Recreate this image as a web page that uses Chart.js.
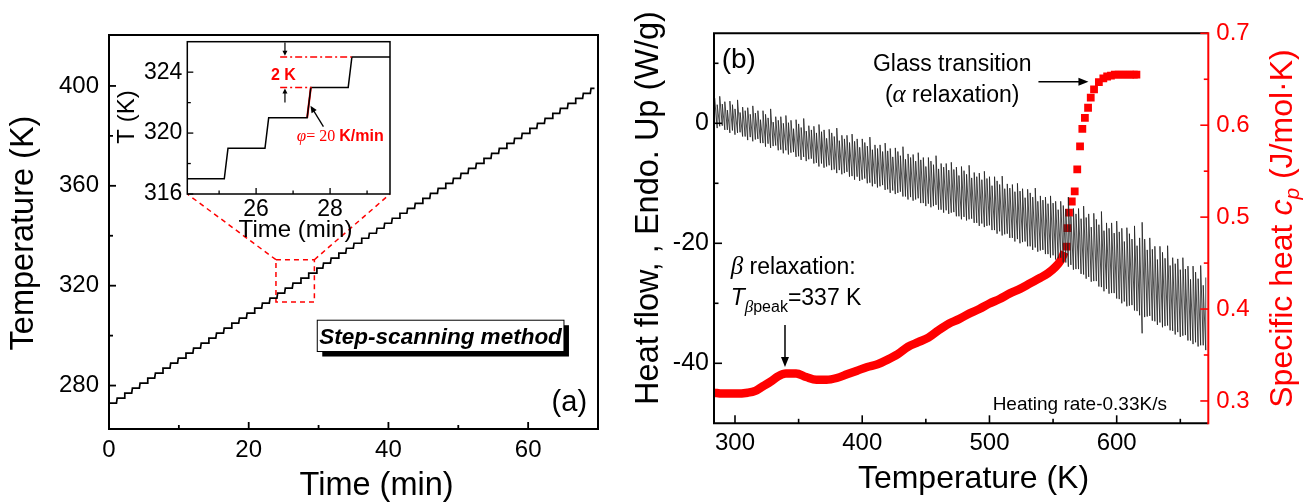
<!DOCTYPE html>
<html><head><meta charset="utf-8">
<script src="https://cdn.jsdelivr.net/npm/chart.js@4.4.1/dist/chart.umd.min.js"></script>
<style>
html,body{margin:0;padding:0;background:#fff;}
#wrap{position:relative;width:1315px;height:504px;overflow:hidden;background:#fff;}
canvas{position:absolute;}
</style></head><body>
<div id="wrap">
<canvas id="ca" width="620" height="504" style="left:0;top:0"></canvas>
<canvas id="ci" width="300" height="215" style="left:110px;top:36px"></canvas>
<canvas id="cb" width="695" height="504" style="left:620px;top:0"></canvas>
</div>
<script>
// ---------------- DATA: panel (a) step-scanning temperature program ----------------
const riseTimes = [1.07,2.16,3.25,4.35,5.45,6.54,7.63,8.73,9.82,10.92,12.01,13.10,14.20,15.29,16.39,17.48,18.57,19.67,20.76,21.86,22.95,24.04,25.14,26.24,27.38,28.49,29.66,30.61,31.70,32.80,33.89,34.98,36.08,37.17,38.27,39.36,40.45,41.55,42.64,43.74,44.83,45.92,47.02,48.11,49.21,50.30,51.39,52.49,53.58,54.68,55.77,56.86,57.96,59.05,60.15,61.24,62.33,63.43,64.52,65.62,66.71,67.80,68.90];
const plateauT = [273,275,277,279,281,283,285,287,289,291,293,295,297,299,301,303,305,307,309,311,313,315,317,319,321,323,325,327,329,331,333,335,337,339,341,343,345,347,349,351,353,355,357,359,361,363,365,367,369,371,373,375,377,379,381,383,385,387,389,391,393,395,397,399];
const riseDuration = 0.1;   // 2 K at 20 K/min
const endTime = 69.5;
const highlightedRise = 24; // the red rise shown in the inset
const aXTicks = [0,20,40,60], aXMinor = [10,30,50];
const aYTicks = [280,320,360,400], aYMinor = [300,340,380];
const inXTicks = [26,28], inXMinor = [25,27,29];
const inYTicks = [316,320,324], inYMinor = [318,322];

// ---------------- DATA: panel (b) heat flow (spikes) and specific heat ----------------
const hfT = [284,286,288,290,292,294,296,298,300,302,304,306,308,310,312,314,316,318,320,322,324,326,328,330,332,334,336,338,340,342,344,346,348,350,352,354,356,358,360,362,364,366,368,370,372,374,376,378,380,382,384,386,388,390,392,394,396,398,400,402,404,406,408,410,412,414,416,418,420,422,424,426,428,430,432,434,436,438,440,442,444,446,448,450,452,454,456,458,460,462,464,466,468,470,472,474,476,478,480,482,484,486,488,490,492,494,496,498,500,502,504,506,508,510,512,514,516,518,520,522,524,526,528,530,532,534,536,538,540,542,544,546,548,550,552,554,556,558,560,562,564,566,568,570,572,574,576,578,580,582,584,586,588,590,592,594,596,598,600,602,604,606,608,610,612,614,616,618,620,622,624,626,628,630,632,634,636,638,640,642,644,646,648,650,652,654,656,658,660,662,664,666,668,670];
const hfTop = [4.2,3.1,4.5,3.2,3.6,2.2,3.7,3.1,2.4,3.9,1.8,2.7,2.1,
2.6,1.5,2.9,1.7,2.1,0.6,2.1,1.5,0.9,2.4,0.2,1.1,0.5,
1.1,0.0,1.3,0.1,0.5,-0.9,0.6,-0.1,-0.7,0.8,-1.3,-0.4,-1.1,
-0.5,-1.6,-0.2,-1.4,-1.1,-2.5,-1.0,-1.6,-2.2,-0.8,-2.9,-2.0,-2.6,
-2.0,-3.2,-1.8,-3.0,-2.6,-4.0,-2.6,-3.2,-3.8,-2.3,-4.4,-3.6,-4.2,
-3.6,-4.7,-3.3,-4.6,-4.2,-5.6,-4.1,-4.7,-5.4,-3.9,-6.0,-5.1,-5.7,
-5.2,-6.3,-4.9,-6.1,-5.7,-7.2,-5.7,-6.3,-6.9,-5.4,-7.6,-6.7,-7.3,
-6.7,-7.8,-6.5,-7.7,-7.3,-8.7,-7.2,-7.9,-8.5,-7.0,-9.1,-8.2,-8.9,
-8.3,-9.4,-8.0,-9.2,-8.9,
-10.4,-8.9,-9.6,-10.2,-8.8,-10.9,-10.1,-10.8,-10.2,-11.4,-10.0,-11.3,-10.9,-12.4,-11.0,-11.6,-12.3,-10.8,-13.0,-12.1,-12.8,-12.3,-13.4,-12.1,-13.3,-13.0,-14.4,-13.0,-13.7,-14.3,
-12.3,-15.5,-14.2,-15.1,-14.2,-15.9,-13.8,-15.7,-15.1,-17.3,-15.0,-16.0,-16.9,-14.7,-17.9,-16.6,-17.5,-16.6,-18.3,-16.3,-18.1,-17.5,-19.7,-17.4,-18.4,-19.3,-17.1,
-20.4,-19.1,-16.5,-19.3,-21.1,-19.1,-21.0,-20.5,-22.7,-20.5,-21.5,-22.5,-20.4,-23.7,-22.4,-23.4,-22.6,-24.4,-22.4,-24.3,-23.8,-26.0,-23.8,-24.8,-25.9,-23.7,-27.0,-25.7];
const hfBase = [-0.1,-0.8,-0.5,-0.4,-1.1,-1.1,-1.6,-1.2,-1.9,-1.6,-1.5,-2.2,-2.2,
-2.8,-2.3,-3.0,-2.7,-2.6,-3.3,-3.3,-3.9,-3.4,-4.1,-3.8,-3.7,-4.5,
-4.4,-5.0,-4.5,-5.2,-4.9,-4.8,-5.6,-5.5,-6.1,-5.6,-6.3,-6.0,-5.9,
-6.7,-6.6,-7.2,-6.7,-7.4,-7.2,-7.0,-7.8,-7.7,-8.3,-7.8,-8.5,-8.3,
-8.1,-8.9,-8.8,-9.4,-8.9,-9.6,-9.4,-9.2,-10.0,-9.9,-10.5,-10.1,-10.7,
-10.5,-10.3,-11.1,-11.0,-11.6,-11.2,-11.8,-11.6,-11.4,-12.2,-12.2,-12.7,-12.3,
-12.9,-12.7,-12.5,-13.3,-13.3,-13.8,-13.4,-14.0,-13.8,-13.6,-14.4,-14.4,-14.9,
-14.5,-15.1,-14.9,-14.8,-15.5,-15.5,-16.0,-15.6,-16.2,-16.0,-15.9,-16.6,-16.6,
-17.1,-16.7,-17.3,-17.1,-17.0,
-17.8,-17.8,-18.4,-18.0,-18.7,-18.5,-18.4,-19.1,-19.1,-19.7,-19.3,-20.0,-19.8,-19.7,-20.5,-20.5,-21.1,-20.7,-21.4,-21.2,-21.1,-21.8,-21.8,-22.4,-22.0,-22.7,-22.5,-22.4,-23.2,-23.2,
-23.9,-23.6,-24.4,-24.3,-24.3,-25.1,-25.2,-25.9,-25.6,-26.4,-26.3,-26.3,-27.2,-27.3,-28.0,-27.6,-28.4,-28.3,-28.3,-29.2,-29.3,-30.0,-29.7,-30.5,-30.4,-30.3,-31.2,
-31.3,-32.0,-35.0,-32.3,-32.2,-32.1,-32.9,-33.0,-33.6,-33.2,-34.0,-33.8,-33.7,-34.5,-34.6,-35.2,-34.8,-35.6,-35.4,-35.3,-36.2,-36.2,-36.8,-36.5,-37.2,-37.0,-37.0,-37.8];
const cpLineT = [283.5,290,300,310,316,322,328,334,340,348,356,364,372,380,388,396,404,412,420,428,436,444,452,460,468,476,484,492,500,508,516,524,532,540,546,552,556,559];
const cpLine  = [0.309,0.308,0.308,0.309,0.311,0.316,0.321,0.327,0.330,0.330,0.326,0.323,0.323,0.325,0.329,0.333,0.337,0.340,0.345,0.351,0.359,0.364,0.369,0.377,0.384,0.389,0.395,0.400,0.406,0.411,0.417,0.422,0.428,0.434,0.439,0.446,0.453,0.462];
const cpSqT = [560.7,561.3,562.5,564.7,567.0,569.0,571.2,573.0,575.0,577.5,579.6,582.2,586.0,589.5,592.5,595.5,598.5,601.5,604.5,607.5,610.5,613.5,615.5];
const cpSq  = [0.468,0.488,0.505,0.517,0.528,0.552,0.577,0.596,0.608,0.619,0.630,0.639,0.647,0.651,0.653,0.654,0.655,0.655,0.655,0.655,0.655,0.655,0.655];
const bXTicks = [300,400,500,600], bXMinor = [350,450,550,650];
const bYTicks = [0,-20,-40], bYMinor = [10,-10,-30];
const bY2Ticks = [0.3,0.4,0.5,0.6,0.7], bY2Minor = [0.35,0.45,0.55,0.65];

// ---------------- helpers ----------------
const FONT = "'Liberation Sans', Arial, sans-serif";
const SERIF = "'Liberation Serif', 'Times New Roman', serif";
const RED = '#ff0000';
Chart.defaults.font.family = FONT;
Chart.defaults.color = '#000';

function stairPoints(){
  const pts = [{x:0, y:plateauT[0]}];
  riseTimes.forEach((t,k)=>{ pts.push({x:t, y:plateauT[k]}); pts.push({x:t+riseDuration, y:plateauT[k+1]}); });
  pts.push({x:endTime, y:plateauT[plateauT.length-1]});
  return pts;
}
function fixed(dim, val){
  return s => { s[dim] = val; s.paddingTop = 0; s.paddingBottom = 0; s.paddingLeft = 0; s.paddingRight = 0; };
}
function setTicks(arr){ return s => { s.ticks = arr.map(v=>({value:v})); }; }
function ticks(chart, id, majors, minors, edge, color, lMaj, lMin, lw){
  const s = chart.scales[id], a = chart.chartArea, ctx = chart.ctx;
  ctx.save(); ctx.strokeStyle = color; ctx.lineWidth = lw;
  const d = (v,len)=>{ const p = s.getPixelForValue(v); ctx.beginPath();
    if(edge==='bottom'){ ctx.moveTo(p,a.bottom); ctx.lineTo(p,a.bottom-len); }
    else if(edge==='left'){ ctx.moveTo(a.left,p); ctx.lineTo(a.left+len,p); }
    else { ctx.moveTo(a.right,p); ctx.lineTo(a.right-len,p); }
    ctx.stroke(); };
  majors.forEach(v=>d(v,lMaj)); minors.forEach(v=>d(v,lMin));
  ctx.restore();
}
function rich(ctx, segs, x, y, align, rot, color){
  ctx.save(); ctx.translate(x,y); if(rot) ctx.rotate(rot);
  ctx.textBaseline = 'alphabetic'; ctx.textAlign = 'left';
  let w = 0; segs.forEach(s=>{ ctx.font = s[1]; w += ctx.measureText(s[0]).width; });
  let cx = align==='center' ? -w/2 : (align==='right' ? -w : 0);
  segs.forEach(s=>{ ctx.font = s[1]; ctx.fillStyle = color; ctx.fillText(s[0], cx, s[2]||0); cx += ctx.measureText(s[0]).width; });
  ctx.restore();
}
function arrow(ctx,x1,y1,x2,y2,hl,hw,color,lw){
  const a = Math.atan2(y2-y1,x2-x1), c = Math.cos(a), s = Math.sin(a);
  ctx.save(); ctx.strokeStyle = color; ctx.fillStyle = color; ctx.lineWidth = lw; ctx.setLineDash([]);
  ctx.beginPath(); ctx.moveTo(x1,y1); ctx.lineTo(x2-hl*c*0.8, y2-hl*s*0.8); ctx.stroke();
  ctx.beginPath(); ctx.moveTo(x2,y2);
  ctx.lineTo(x2-hl*c+hw*s, y2-hl*s-hw*c);
  ctx.lineTo(x2-hl*c-hw*s, y2-hl*s+hw*c);
  ctx.closePath(); ctx.fill(); ctx.restore();
}
const noFx = {responsive:false, animation:false, events:[], plugins:{legend:{display:false}, tooltip:{enabled:false}}};

// ---------------- inset chart ----------------
const stairs = stairPoints();
const redRise = [{x:riseTimes[highlightedRise], y:plateauT[highlightedRise]},
                 {x:riseTimes[highlightedRise]+riseDuration, y:plateauT[highlightedRise+1]}];

const insetPlugin = {
  id:'insetDeco',
  beforeDatasetsDraw(chart){
    const a = chart.chartArea, ctx = chart.ctx;
    ctx.save(); ctx.fillStyle = '#fff'; ctx.fillRect(a.left, a.top, a.right-a.left, a.bottom-a.top); ctx.restore();
  },
  afterDatasetsDraw(chart){
    const a = chart.chartArea, ctx = chart.ctx, xs = chart.scales.x, ys = chart.scales.y;
    const P = (t,T)=>[xs.getPixelForValue(t), ys.getPixelForValue(T)];
    ctx.save(); ctx.strokeStyle = RED; ctx.lineWidth = 1.5; ctx.setLineDash([7,3,2,3]);
    let p1 = P(26.65,325), p2 = P(28.58,325);
    ctx.beginPath(); ctx.moveTo(p1[0],p1[1]); ctx.lineTo(p2[0],p2[1]); ctx.stroke();
    p1 = P(26.65,323); p2 = P(27.5,323);
    ctx.beginPath(); ctx.moveTo(p1[0],p1[1]); ctx.lineTo(p2[0],p2[1]); ctx.stroke();
    ctx.restore();
    let q1 = P(26.78,325.95), q2 = P(26.78,325.08); arrow(ctx,q1[0],q1[1],q2[0],q2[1],5,2.5,'#000',1.2);
    q1 = P(26.78,322.0); q2 = P(26.78,322.92); arrow(ctx,q1[0],q1[1],q2[0],q2[1],5,2.5,'#000',1.2);
    q1 = P(27.82,320.42); q2 = P(27.47,321.8); arrow(ctx,q1[0],q1[1],q2[0],q2[1],7,3,'#000',1.3);
    let t = P(26.74,323.49);
    rich(ctx, [['2 K', 'bold 16px '+FONT]], t[0], t[1], 'center', 0, RED);
    t = P(27.10,319.48);
    rich(ctx, [['\u03c6', 'italic 17px '+SERIF], ['= 20 ', '16px '+SERIF], ['K/min', 'bold 16px '+FONT]], t[0], t[1], 'left', 0, RED);
    ctx.save(); ctx.strokeStyle = '#000'; ctx.lineWidth = 1.5; ctx.setLineDash([]);
    ctx.strokeRect(a.left, a.top, a.right-a.left, a.bottom-a.top); ctx.restore();
    ticks(chart,'x',inXTicks,inXMinor,'bottom','#000',6,3.5,1.3);
    ticks(chart,'y',inYTicks,inYMinor,'left','#000',6,3.5,1.3);
    rich(ctx, [['Time (min)', '24px '+FONT]], 185.5, 201, 'center', 0, '#000');
    rich(ctx, [['T (K)', '24px '+FONT]], 24, 81, 'center', -Math.PI/2, '#000');
  }
};
const inset = new Chart(document.getElementById('ci'), {
  type:'scatter',
  data:{datasets:[
    {data:stairs, showLine:true, borderColor:'#000', borderWidth:1.5, pointRadius:0},
    {data:redRise, showLine:true, borderColor:RED, borderWidth:2, pointRadius:0}
  ]},
  options:Object.assign({}, noFx, {
    layout:{padding:{top:5.7, right:20, left:0, bottom:0}},
    scales:{
      x:{type:'linear', min:24.14, max:29.62, afterBuildTicks:setTicks(inXTicks), afterFit:fixed('height',57),
         grid:{display:false, drawTicks:false}, border:{display:false},
         ticks:{font:{size:23}, padding:2, maxRotation:0, color:'#000'}},
      y:{type:'linear', min:316, max:326, afterBuildTicks:setTicks(inYTicks), afterFit:fixed('width',77.3),
         grid:{display:false, drawTicks:false}, border:{display:false},
         ticks:{font:{size:23}, padding:5, color:'#000'}}
    }
  }),
  plugins:[insetPlugin]
});

// ---------------- panel (a) ----------------
const aPlugin = {
  id:'aDeco',
  afterDatasetsDraw(chart){
    const a = chart.chartArea, ctx = chart.ctx, xs = chart.scales.x, ys = chart.scales.y;
    const P = (t,T)=>[xs.getPixelForValue(t), ys.getPixelForValue(T)];
    const b1 = P(23.9,330.4), b2 = P(29.4,313.5);
    ctx.save(); ctx.strokeStyle = RED; ctx.lineWidth = 1.5; ctx.setLineDash([5,4]);
    ctx.strokeRect(b1[0], b1[1], b2[0]-b1[0], b2[1]-b1[1]);
    const ia = inset.chartArea, ox = 110, oy = 36;
    ctx.beginPath(); ctx.moveTo(b1[0], b1[1]); ctx.lineTo(ox+ia.left, oy+ia.bottom); ctx.stroke();
    ctx.beginPath(); ctx.moveTo(b2[0], b1[1]); ctx.lineTo(ox+ia.right, oy+ia.bottom); ctx.stroke();
    ctx.restore();
    const c = P(47.47,299.9), w = 246.7, h = 31.3;
    ctx.save();
    ctx.fillStyle = '#000'; ctx.fillRect(c[0]-w/2+5, c[1]-h/2+5, w, h);
    ctx.fillStyle = '#fff'; ctx.fillRect(c[0]-w/2, c[1]-h/2, w, h);
    ctx.strokeStyle = '#000'; ctx.lineWidth = 1; ctx.strokeRect(c[0]-w/2, c[1]-h/2, w, h);
    ctx.restore();
    rich(ctx, [['Step-scanning method', 'italic bold 22.5px '+FONT]], c[0], c[1]+7.8, 'center', 0, '#000');
    const pa = P(63.36,269.9);
    rich(ctx, [['(a)', '29px '+FONT]], pa[0], pa[1], 'left', 0, '#000');
    ctx.save(); ctx.strokeStyle = '#000'; ctx.lineWidth = 2; ctx.setLineDash([]);
    ctx.strokeRect(a.left, a.top, a.right-a.left, a.bottom-a.top); ctx.restore();
    ticks(chart,'x',aXTicks,aXMinor,'bottom','#000',7,4,1.8);
    ticks(chart,'y',aYTicks,aYMinor,'left','#000',7,4,1.8);
    rich(ctx, [['Time (min)', '32.5px '+FONT]], 376.6, 495, 'center', 0, '#000');
    rich(ctx, [['Temperature (K)', '32.5px '+FONT]], 33, 233, 'center', -Math.PI/2, '#000');
  }
};
new Chart(document.getElementById('ca'), {
  type:'scatter',
  data:{datasets:[{data:stairs, showLine:true, borderColor:'#000', borderWidth:1.7, pointRadius:0}]},
  options:Object.assign({}, noFx, {
    layout:{padding:{top:35, right:22, left:0, bottom:0}},
    scales:{
      x:{type:'linear', min:0, max:70, afterBuildTicks:setTicks(aXTicks), afterFit:fixed('height',75),
         grid:{display:false, drawTicks:false}, border:{display:false},
         ticks:{font:{size:24}, padding:7, maxRotation:0, color:'#000'}},
      y:{type:'linear', min:262.6, max:420.4, afterBuildTicks:setTicks(aYTicks), afterFit:fixed('width',109),
         grid:{display:false, drawTicks:false}, border:{display:false},
         ticks:{font:{size:24}, padding:10, color:'#000'}}
    }
  }),
  plugins:[aPlugin]
});

// ---------------- panel (b) ----------------
const hfPts = [];
hfT.forEach((t,i)=>{ hfPts.push({x:t, y:hfBase[i]}); hfPts.push({x:t, y:hfTop[i]}); });
const cpLinePts = cpLineT.map((t,i)=>({x:t, y:cpLine[i]}));
const cpSqPts = cpSqT.map((t,i)=>({x:t, y:cpSq[i]}));

const bPlugin = {
  id:'bDeco',
  afterDatasetsDraw(chart){
    const a = chart.chartArea, ctx = chart.ctx, xs = chart.scales.x, ys = chart.scales.y;
    const P = (t,v)=>[xs.getPixelForValue(t), ys.getPixelForValue(v)];
    let p = P(289.5,9.28);
    rich(ctx, [['(b)', '28px '+FONT]], p[0], p[1], 'left', 0, '#000');
    p = P(470.7,8.77);
    rich(ctx, [['Glass transition', '23px '+FONT]], p[0], p[1], 'center', 0, '#000');
    p = P(470.7,3.47);
    rich(ctx, [['(', '23px '+FONT], ['\u03b1', 'italic 25px '+SERIF], [' relaxation)', '23px '+FONT]], p[0], p[1], 'center', 0, '#000');
    let q1 = P(538.5,6.93), q2 = P(577.8,6.93); arrow(ctx,q1[0],q1[1],q2[0],q2[1],10,4,'#000',1.5);
    p = P(296.6,-25.1);
    rich(ctx, [['\u03b2', 'italic 25px '+SERIF], [' relaxation:', '23px '+FONT]], p[0], p[1], 'left', 0, '#000');
    p = P(296.6,-30.3);
    rich(ctx, [['T', 'italic 23px '+FONT], ['\u03b2', 'italic 17px '+SERIF, 7], ['peak', '16px '+FONT, 7], ['=337 K', '23px '+FONT]], p[0], p[1], 'left', 0, '#000');
    q1 = P(339.3,-33.6); q2 = P(339.3,-40.6); arrow(ctx,q1[0],q1[1],q2[0],q2[1],10,4,'#000',1.5);
    p = P(502.5,-47.8);
    rich(ctx, [['Heating rate-0.33K/s', '19px '+FONT]], p[0], p[1], 'left', 0, '#000');
    ctx.save(); ctx.setLineDash([]); ctx.lineWidth = 2; ctx.strokeStyle = '#000';
    ctx.beginPath(); ctx.moveTo(a.right, a.top); ctx.lineTo(a.left, a.top); ctx.lineTo(a.left, a.bottom); ctx.lineTo(a.right, a.bottom); ctx.stroke();
    ctx.strokeStyle = RED; ctx.beginPath(); ctx.moveTo(a.right, a.top-1); ctx.lineTo(a.right, a.bottom+1); ctx.stroke();
    ctx.restore();
    ticks(chart,'x',bXTicks,bXMinor,'bottom','#000',8,4.5,1.6);
    ticks(chart,'y',bYTicks,bYMinor,'left','#000',8,4.5,1.6);
    ticks(chart,'y2',bY2Ticks,bY2Minor,'right',RED,8,4.5,1.6);
    rich(ctx, [['Temperature (K)', '32px '+FONT]], 353.5, 488, 'center', 0, '#000');
    rich(ctx, [['Heat flow, , Endo. Up (W/g)', '32.5px '+FONT]], 38, 208, 'center', -Math.PI/2, '#000');
    rich(ctx, [['Specific heat ', '32px '+FONT], ['c', 'italic 32px '+FONT], ['p', 'italic 21px '+FONT, 7], [' (J/mol\u00b7K)', '32px '+FONT]], 672, 228.5, 'center', -Math.PI/2, RED);
  }
};
new Chart(document.getElementById('cb'), {
  type:'scatter',
  data:{datasets:[
    {data:hfPts, showLine:true, borderColor:'#1e1e1e', borderWidth:0.8, pointRadius:0, yAxisID:'y'},
    {data:cpLinePts, showLine:true, borderColor:RED, borderWidth:8.5, pointRadius:0, cubicInterpolationMode:'monotone', yAxisID:'y2'},
    {data:cpSqPts, showLine:false, pointStyle:'rect', pointRadius:5.5, backgroundColor:RED, borderWidth:0, yAxisID:'y2'}
  ]},
  options:Object.assign({}, noFx, {
    layout:{padding:{top:33.3, right:0, left:0, bottom:0}},
    scales:{
      x:{type:'linear', min:283.5, max:672, afterBuildTicks:setTicks(bXTicks), afterFit:fixed('height',80.7),
         grid:{display:false, drawTicks:false}, border:{display:false},
         ticks:{font:{size:24}, padding:6, maxRotation:0, color:'#000'}},
      y:{type:'linear', position:'left', min:-50, max:15, afterBuildTicks:setTicks(bYTicks), afterFit:fixed('width',94),
         grid:{display:false, drawTicks:false}, border:{display:false},
         ticks:{font:{size:25}, padding:5, color:'#000'}},
      y2:{type:'linear', position:'right', min:0.2757, max:0.7, afterBuildTicks:setTicks(bY2Ticks), afterFit:fixed('width',106.7),
         grid:{display:false, drawTicks:false}, border:{display:false},
         ticks:{font:{size:24}, padding:8, color:RED}}
    }
  }),
  plugins:[bPlugin]
});
</script>
</body></html>
